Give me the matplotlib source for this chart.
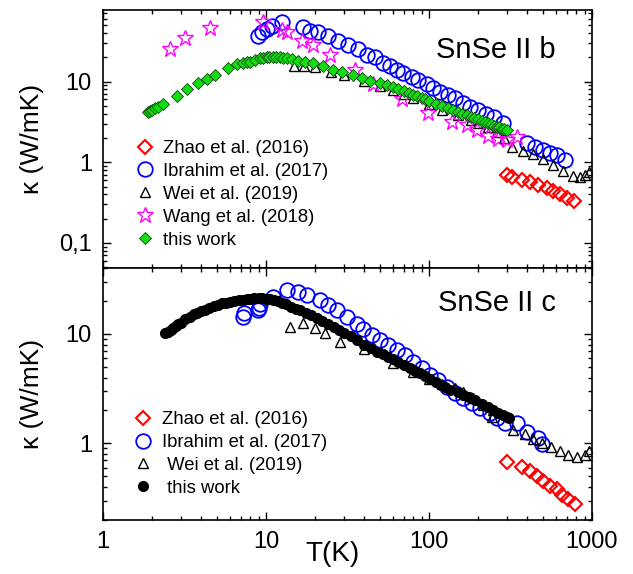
import matplotlib
matplotlib.use('Agg')
import matplotlib.pyplot as plt
from matplotlib.ticker import FixedLocator, FixedFormatter, LogLocator, NullFormatter

plt.rcParams['font.family'] = ['Liberation Sans', 'DejaVu Sans']

# ---- b axis ----
T_zhao_b = [300, 323, 372, 417, 467, 530, 576, 637, 703, 773]
k_zhao_b = [0.70, 0.66, 0.61, 0.57, 0.525, 0.48, 0.44, 0.41, 0.36, 0.33]

T_ibr_b = [8.93, 9.45, 10.1, 10.9, 12.5, 16.9, 18.6, 20.8, 24.0, 27.7, 31.8, 36.7, 41.7,
           46.6, 52.2, 57.7, 63.6, 69.2, 78.7, 85.6, 97.2, 106, 117, 131, 144, 162, 179,
           200, 224, 250, 284, 399, 447, 500, 552, 610, 682]
k_ibr_b = [36.2, 40.6, 44.3, 48.2, 54.1, 46.9, 41.8, 40.6, 36.2, 31.4, 28.0, 25.0, 21.6,
           19.9, 17.2, 15.4, 14.1, 12.9, 11.5, 10.6, 9.2, 8.4, 7.5, 6.9, 6.3, 5.5, 4.9,
           4.5, 4.0, 3.6, 3.1, 1.75, 1.56, 1.43, 1.31, 1.24, 1.07]

T_wei_b = [14.9, 17, 20, 25, 30, 40, 50, 60, 70, 80, 100, 120, 150, 180, 200, 230, 260,
           290, 323, 377, 435, 500, 576, 663, 765, 844, 906, 959]
k_wei_b = [15.4, 15.5, 15.0, 13.3, 12.2, 10.2, 8.9, 7.8, 7.0, 6.3, 5.2, 4.5, 3.8, 3.3,
           3.05, 2.75, 2.4, 2.0, 1.56, 1.39, 1.28, 1.10, 0.93, 0.78, 0.68, 0.66, 0.70, 0.76]

T_wang_b = [2.58, 3.18, 4.53, 9.59, 12.5, 13.5, 16.6, 19.4, 24.7, 35.2, 45.3, 68.3, 98.6,
            138, 171, 197, 230, 265, 301, 347]
k_wang_b = [25.0, 34.2, 45.5, 54.1, 43.0, 40.6, 31.4, 28.0, 21.6, 14.1, 9.2, 6.0, 4.1,
            3.18, 2.92, 2.53, 2.13, 1.96, 1.90, 2.07]

T_this_b = [1.89, 1.95, 2.0, 2.08, 2.18, 2.33, 2.84, 3.28, 3.83, 4.35, 4.87, 5.85, 6.64,
            7.22, 7.6, 7.98, 8.56, 9.19, 9.6, 10.1, 10.5, 11.0, 11.5, 12.2, 12.8, 13.5,
            14.4, 15.7, 17.4, 19.4, 22.4, 25.8, 29.3, 34.2, 38.8, 43.5, 50, 55, 60, 65,
            70, 75, 80, 85, 90, 95, 100, 110, 120, 130, 140, 150, 160, 170, 180, 190,
            200, 210, 220, 230, 240, 250, 260, 270, 280, 290, 300]
k_this_b = [4.24, 4.35, 4.49, 4.75, 4.89, 5.33, 6.7, 8.2, 9.7, 10.9, 12.2, 14.9, 16.3,
            17.2, 17.5, 17.7, 18.7, 19.3, 19.5, 19.9, 19.9, 19.9, 19.9, 19.9, 19.6, 19.3,
            18.9, 18.2, 17.7, 17.2, 15.4, 14.1, 13.3, 12.2, 11.2, 10.3, 9.7, 9.0, 8.5,
            8.0, 7.6, 7.2, 6.9, 6.6, 6.3, 6.1, 5.7, 5.3, 5.0, 4.7, 4.4, 4.2, 4.0, 3.8,
            3.6, 3.5, 3.4, 3.25, 3.15, 3.05, 2.95, 2.85, 2.75, 2.7, 2.6, 2.55, 2.5]

# ---- c axis ----
T_zhao_c = [300, 372, 417, 460, 500, 552, 610, 655, 713, 787]
k_zhao_c = [0.67, 0.605, 0.556, 0.50, 0.45, 0.41, 0.38, 0.34, 0.31, 0.28]

T_ibr_c = [7.2, 7.3, 8.9, 9.0, 9.2, 11.0, 13.5, 15.7, 17.9, 21.4, 24.0, 27.3, 31.4, 36.2,
           39.4, 44.7, 50.0, 56.0, 63.6, 71.2, 79.8, 90.6, 101, 114, 129, 144, 162, 184,
           206, 237, 261, 293, 347, 399, 467, 493]
k_ibr_c = [14.2, 15.6, 16.4, 17.4, 18.6, 21.7, 25.1, 24.1, 22.6, 20.4, 18.4, 16.5, 14.3,
           12.3, 11.1, 9.8, 8.8, 7.94, 7.16, 6.44, 5.56, 4.91, 4.24, 3.82, 3.30, 2.91,
           2.62, 2.36, 2.12, 1.91, 1.72, 1.55, 1.55, 1.26, 1.13, 0.98]

T_wei_c = [14.0, 16.9, 20.0, 23.0, 28.5, 40, 60, 80, 100, 120, 144, 162, 186, 214, 247,
           244, 328, 388, 435, 493, 560, 637, 713, 809, 906, 959]
k_wei_c = [11.6, 12.6, 11.3, 10.2, 8.46, 7.3, 5.4, 4.5, 3.9, 3.5, 3.23, 2.97, 2.62, 2.26,
           2.04, 1.76, 1.34, 1.21, 1.09, 1.02, 0.92, 0.85, 0.78, 0.75, 0.79, 0.85]

T_this_c = [2.4, 2.5, 2.6, 2.7, 2.8, 2.9, 3.0, 3.2, 3.4, 3.6, 3.8, 4.0, 4.2, 4.5, 4.8,
            5.1, 5.4, 5.7, 6.0, 6.4, 6.8, 7.2, 7.6, 8.0, 8.5, 9.0, 9.5, 10.0, 10.6, 11.2,
            11.8, 12.5, 13.3, 14.2, 15.2, 16.2, 17.5, 19, 20.5, 22, 24, 26, 28, 30, 33,
            36, 40, 44, 48, 52, 56, 60, 65, 70, 76, 82, 88, 95, 102, 110, 118, 126, 135,
            150, 162, 175, 191, 210, 230, 247, 265, 283, 300, 310]
k_this_c = [10.2, 10.5, 10.9, 11.3, 11.8, 12.3, 12.7, 13.6, 14.4, 15.1, 15.6, 16.2, 16.7,
            17.4, 17.9, 18.5, 19.0, 19.3, 19.6, 20.0, 20.4, 20.6, 20.8, 21.0, 21.1, 21.2,
            21.2, 21.0, 20.8, 20.4, 19.9, 19.3, 18.6, 17.8, 17.0, 16.4, 15.6, 14.8, 14.0,
            13.2, 12.3, 11.6, 10.9, 10.3, 9.5, 8.8, 8.0, 7.4, 6.9, 6.5, 6.2, 5.9, 5.5,
            5.2, 4.9, 4.6, 4.4, 4.15, 3.9, 3.65, 3.45, 3.25, 3.1, 2.92, 2.79, 2.63, 2.48,
            2.27, 2.13, 2.02, 1.90, 1.80, 1.74, 1.70]

RED = '#ff0000'
BLUE = '#0000ff'
MAG = '#ff00ff'
GREEN = '#11dd11'

fig = plt.figure(figsize=(6.33, 5.74), dpi=100)
ax1 = fig.add_axes([0.1627, 0.5331, 0.7725, 0.4495])
ax2 = fig.add_axes([0.1627, 0.0941, 0.7725, 0.4390])

# top: kappa along b
ax1.plot(T_zhao_b, k_zhao_b, 'D', ms=7.5, mfc='none', mec=RED, mew=1.5, ls='none',
         label='Zhao et al. (2016)')
ax1.plot(T_ibr_b, k_ibr_b, 'o', ms=10.5, mfc='none', mec=BLUE, mew=1.3, ls='none',
         label='Ibrahim et al. (2017)')
ax1.plot(T_wei_b, k_wei_b, '^', ms=7, mfc='none', mec='k', mew=1.0, ls='none',
         label='Wei et al. (2019)')
ax1.plot(T_wang_b, k_wang_b, '*', ms=12, mfc='none', mec=MAG, mew=1.0, ls='none',
         label='Wang et al. (2018)')
ax1.plot(T_this_b, k_this_b, 'D', ms=6, mfc=GREEN, mec='#114411', mew=0.6, ls='none',
         label='this work')

# bottom: kappa along c
ax2.plot(T_zhao_c, k_zhao_c, 'D', ms=7.5, mfc='none', mec=RED, mew=1.5, ls='none',
         label='Zhao et al. (2016)')
ax2.plot(T_ibr_c, k_ibr_c, 'o', ms=10.5, mfc='none', mec=BLUE, mew=1.3, ls='none',
         label='Ibrahim et al. (2017)')
ax2.plot(T_wei_c, k_wei_c, '^', ms=7, mfc='none', mec='k', mew=1.0, ls='none',
         label=' Wei et al. (2019)')
ax2.plot(T_this_c, k_this_c, 'o', ms=7, mfc='k', mec='k', ls='none',
         label=' this work')

for ax, ylim, yt, ytl in [(ax1, (0.049, 77), [0.1, 1, 10], ['0,1', '1', '10']),
                          (ax2, (0.2, 40), [1, 10], ['1', '10'])]:
    ax.set_xscale('log')
    ax.set_yscale('log')
    ax.set_xlim(1, 1000)
    ax.set_ylim(*ylim)
    ax.xaxis.set_major_locator(FixedLocator([1, 10, 100, 1000]))
    ax.xaxis.set_major_formatter(FixedFormatter(['1', '10', '100', '1000']))
    ax.xaxis.set_minor_locator(LogLocator(subs=range(2, 10)))
    ax.xaxis.set_minor_formatter(NullFormatter())
    ax.yaxis.set_major_locator(FixedLocator(yt))
    ax.yaxis.set_major_formatter(FixedFormatter(ytl))
    ax.yaxis.set_minor_locator(LogLocator(subs=range(2, 10)))
    ax.yaxis.set_minor_formatter(NullFormatter())
    ax.tick_params(which='both', direction='in', top=True, right=True, width=1.0,
                   labelsize=17)
    ax.tick_params(which='major', length=6, pad=8)
    ax.tick_params(which='minor', length=3)
    for s in ax.spines.values():
        s.set_linewidth(1.2)
    ax.set_ylabel('\u03ba (W/mK)', fontsize=19)
    ax.yaxis.set_label_coords(-0.12, 0.5)

ax1.tick_params(labelbottom=False)
ax2.set_xlabel('T(K)', fontsize=20)
ax2.xaxis.set_label_coords(0.47, -0.085)

ax1.text(0.926, 0.845, 'SnSe II b', transform=ax1.transAxes, ha='right', va='center',
         fontsize=21)
ax2.text(0.926, 0.861, 'SnSe II c', transform=ax2.transAxes, ha='right', va='center',
         fontsize=21)

legkw = dict(frameon=False, fontsize=13.3, handlelength=1.0, handletextpad=0.5,
             labelspacing=0.32, borderpad=0, borderaxespad=0, loc='upper left')
ax1.legend(bbox_to_anchor=(0.067, 0.496), **legkw)
ax2.legend(bbox_to_anchor=(0.063, 0.432), **legkw)

fig.savefig('out.png', dpi=100)
